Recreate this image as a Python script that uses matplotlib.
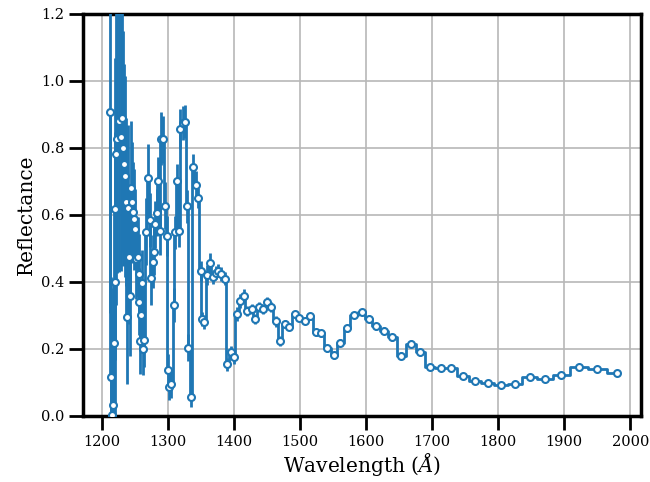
import numpy as np
import matplotlib
matplotlib.use("Agg")
import matplotlib.pyplot as plt

plt.rcParams['font.family'] = ['DejaVu Serif']
plt.rcParams['mathtext.fontset'] = 'dejavuserif'

# wavelength bins (Angstrom) and reflectance
wavelength = [
    1212.5, 1213.6, 1215.5, 1217.5, 1218.6, 1219.6, 1220.5, 1221.6, 1223.5, 1226.1,
    1229.1, 1231.1, 1232.6, 1233.7, 1235.6, 1236.7, 1237.7, 1239.5, 1241.2, 1242.2,
    1243.8, 1245.7, 1246.8, 1248.8, 1250.7, 1252.5, 1254.3, 1255.8, 1256.8, 1257.8,
    1259.5, 1261.3, 1262.8, 1264.5, 1266.4, 1270.4, 1272.9, 1274.4, 1277.0, 1278.9,
    1280.9, 1283.0, 1285.4, 1288.0, 1289.5, 1293.0, 1295.5, 1298.1, 1299.6, 1302.6,
    1305.6, 1308.7, 1310.6, 1313.7, 1316.7, 1319.2, 1322.5, 1326.2, 1328.8, 1331.3,
    1335.8, 1338.3, 1342.3, 1345.8, 1349.9, 1351.9, 1355.0, 1360.0, 1364.0, 1368.0,
    1372.5, 1376.0, 1381.0, 1386.0, 1389.6, 1395.0, 1400.0, 1404.7, 1409.8, 1414.8,
    1419.8, 1426.9, 1431.9, 1437.9, 1443.9, 1450.5, 1456.5, 1463.1, 1469.6, 1476.7,
    1483.8, 1491.8, 1499.3, 1507.3, 1515.4, 1524.0, 1532.5, 1541.6, 1551.7, 1561.2,
    1570.7, 1581.9, 1593.4, 1603.9, 1615.0, 1627.2, 1639.2, 1653.7, 1667.9, 1682.0,
    1696.6, 1713.2, 1729.2, 1746.4, 1765.0, 1784.2, 1804.2, 1824.9, 1847.5, 1870.6,
    1895.2, 1921.9, 1950.2, 1979.3,
]
reflectance = [
    0.908, 0.115, 0.003, 0.033, 0.218, 0.399, 0.618, 0.781, 0.826, 0.880,
    0.834, 0.889, 0.799, 0.752, 0.716, 0.638, 0.296, 0.620, 0.474, 0.359,
    0.682, 0.638, 0.609, 0.587, 0.558, 0.470, 0.474, 0.424, 0.341, 0.225,
    0.300, 0.396, 0.201, 0.227, 0.550, 0.711, 0.585, 0.411, 0.461, 0.490,
    0.572, 0.607, 0.702, 0.552, 0.828, 0.826, 0.628, 0.537, 0.136, 0.087,
    0.094, 0.331, 0.548, 0.701, 0.553, 0.857, 0.875, 0.879, 0.626, 0.204,
    0.058, 0.743, 0.690, 0.651, 0.433, 0.290, 0.280, 0.420, 0.457, 0.414,
    0.428, 0.434, 0.424, 0.410, 0.154, 0.190, 0.176, 0.304, 0.343, 0.359,
    0.314, 0.318, 0.290, 0.324, 0.318, 0.339, 0.324, 0.282, 0.224, 0.275,
    0.267, 0.304, 0.293, 0.284, 0.297, 0.250, 0.247, 0.202, 0.181, 0.219,
    0.262, 0.301, 0.310, 0.290, 0.268, 0.255, 0.235, 0.180, 0.216, 0.190,
    0.145, 0.142, 0.144, 0.120, 0.104, 0.099, 0.092, 0.094, 0.116, 0.111,
    0.122, 0.145, 0.139, 0.128,
]
refl_err = [
    0.60, 0.30, 0.30, 0.35, 0.40, 0.45, 0.45, 0.45, 0.40, 0.45,
    0.40, 0.40, 0.35, 0.30, 0.30, 0.25, 0.20, 0.25, 0.20, 0.18,
    0.20, 0.18, 0.15, 0.15, 0.12, 0.12, 0.12, 0.12, 0.10, 0.10,
    0.10, 0.10, 0.08, 0.08, 0.10, 0.10, 0.08, 0.08, 0.08, 0.07,
    0.07, 0.07, 0.07, 0.07, 0.08, 0.07, 0.07, 0.06, 0.05, 0.04,
    0.04, 0.05, 0.05, 0.05, 0.05, 0.06, 0.05, 0.05, 0.05, 0.04,
    0.03, 0.04, 0.04, 0.03, 0.03, 0.02, 0.02, 0.03, 0.03, 0.02,
    0.02, 0.02, 0.02, 0.02, 0.02, 0.02, 0.02, 0.02, 0.02, 0.02,
    0.015, 0.015, 0.015, 0.015, 0.015, 0.015, 0.015, 0.015, 0.015, 0.01,
    0.01, 0.01, 0.01, 0.01, 0.01, 0.01, 0.01, 0.01, 0.01, 0.01,
    0.01, 0.01, 0.01, 0.01, 0.01, 0.01, 0.01, 0.01, 0.01, 0.01,
    0.008, 0.008, 0.008, 0.008, 0.008, 0.008, 0.008, 0.008, 0.008, 0.008,
    0.008, 0.008, 0.008, 0.008,
]

fig = plt.figure(figsize=(6.5, 4.82), dpi=100)
ax = fig.add_axes([0.128, 0.137, 0.858, 0.834])

ax.errorbar(wavelength, reflectance, yerr=refl_err, color='#1f77b4',
            drawstyle='steps-mid', lw=2, elinewidth=2,
            marker='o', ms=5, mfc='white', mec='#1f77b4', mew=1.5, zorder=3)

ax.set_xlim(1172, 2016)
ax.set_ylim(0, 1.2)
ax.set_xticks([1200, 1300, 1400, 1500, 1600, 1700, 1800, 1900, 2000])
ax.set_yticks([0.0, 0.2, 0.4, 0.6, 0.8, 1.0, 1.2])
ax.grid(True, color='#b8b8b8', lw=1.2)
ax.set_axisbelow(True)

for s in ax.spines.values():
    s.set_linewidth(2.5)
ax.tick_params(length=10, width=2, labelsize=10.5, direction='out')

ax.set_xlabel(r'Wavelength ($\AA$)', fontsize=14.5, labelpad=2)
ax.set_ylabel('Reflectance', fontsize=14.5)

fig.savefig('out.png', dpi=100)
